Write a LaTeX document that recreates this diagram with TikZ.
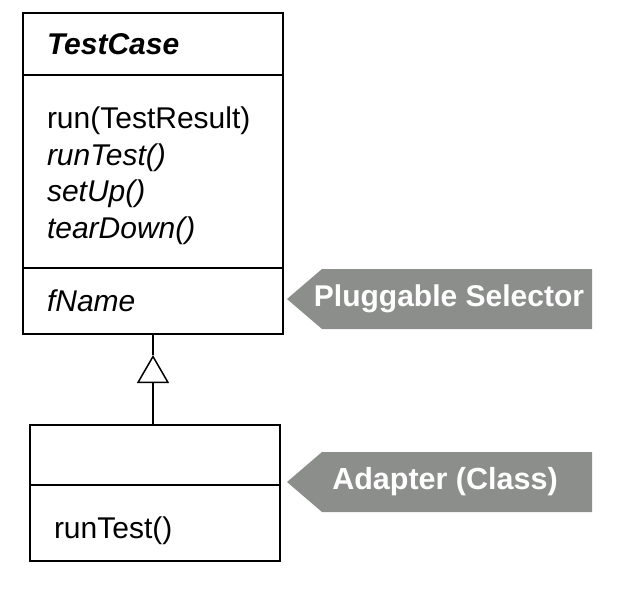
\documentclass[tikz,border=0pt]{standalone}
\usepackage{fontspec}
\setmainfont{Liberation Sans}
\usetikzlibrary{positioning,arrows.meta,backgrounds}
\definecolor{tagGray}{RGB}{140,142,140}

\begin{document}
\begin{tikzpicture}[x=1pt,y=-1pt, line width=1.5pt,
  every node/.style={font=\fontsize{30}{36.7}\selectfont, outer sep=0pt},
  classPart/.style={draw, rectangle, inner xsep=24pt, inner ysep=0pt, align=left},
  tagBody/.style={text=white, font=\fontsize{30}{31}\selectfont\bfseries,
    minimum width=305pt, minimum height=60pt, inner sep=0pt}]
\useasboundingbox (0,0) rectangle (637,597);
%
% abstract class
\node[classPart, text width=212pt, minimum height=62pt] (tcName) at (153,44) {\textbf{\textit{TestCase}}};
\node[classPart, text width=212pt, minimum height=193pt, below=0pt of tcName] (tcOps)
  {\rule{0pt}{30pt}run(TestResult)\\\textit{runTest()}\\\textit{setUp()}\\\textit{tearDown()}};
\node[classPart, text width=212pt, minimum height=66pt, below=0pt of tcOps] (tcAttr) {\textit{fName}};
%
% subclass
\node[classPart, text width=202pt, minimum height=60pt] (adName) at (155,455) {};
\node[classPart, text width=202pt, minimum height=76pt, text height=30pt, text depth=0pt,
  below=0pt of adName] (adOps) {runTest()};
%
\coordinate (genTip) at (153,355);
\draw (tcAttr.south) -- (genTip);
\draw[-{Triangle[open,width=32pt,length=28pt]}] (adName.north -| genTip) -- (genTip);
%
% pattern tags
\node[tagBody] (selTag) at (439.5,299) {\hspace*{19pt}Pluggable Selector};
\node[tagBody, font=\fontsize{30.5}{31}\selectfont\bfseries] (adTag) at (439.5,482) {\hspace*{11pt}Adapter (Class)};
\begin{scope}[on background layer]
\foreach \t in {selTag,adTag}
  \fill[tagGray] ([xshift=35pt]\t.north west) -- (\t.north east) -- (\t.south east)
    -- ([xshift=35pt]\t.south west) -- (\t.west) -- cycle;
\end{scope}
\end{tikzpicture}
\end{document}
